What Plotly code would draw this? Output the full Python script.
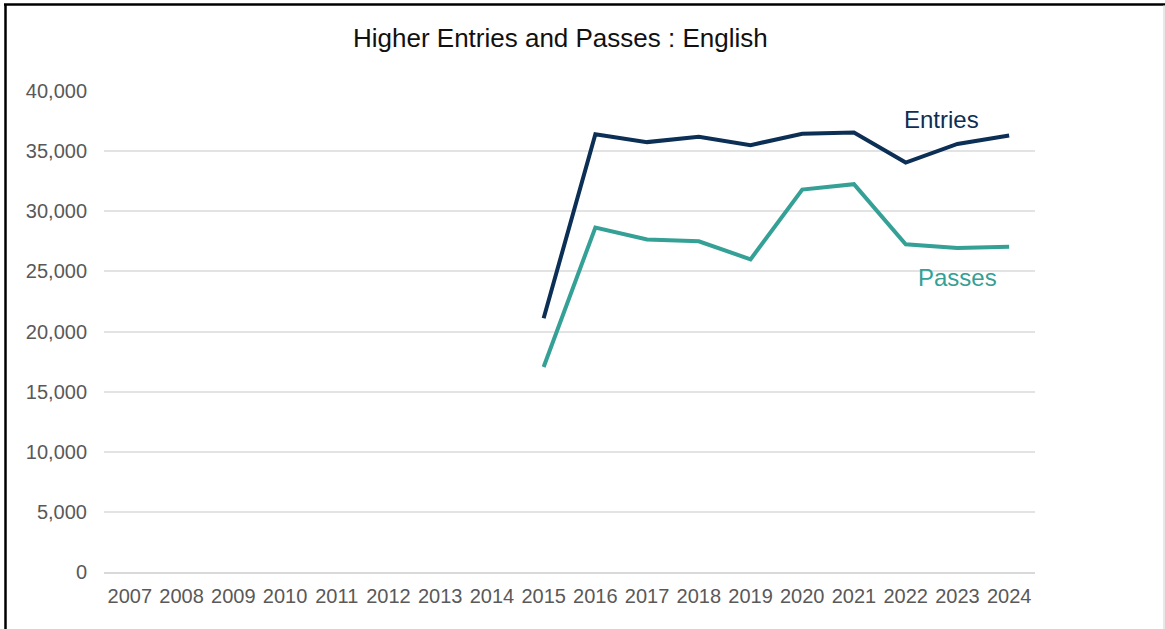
import plotly.graph_objects as go

years = [str(y) for y in range(2007, 2025)]
entries = [None] * 8 + [21100, 36400, 35750, 36200, 35500, 36450, 36550, 34050, 35600, 36300]
passes = [None] * 8 + [17050, 28650, 27650, 27500, 26000, 31800, 32250, 27250, 26950, 27050]
y_ticks = [0, 5000, 10000, 15000, 20000, 25000, 30000, 35000, 40000]

NAVY = "#0c2f55"
TEAL = "#34a096"
FONT = "Liberation Sans, Arial, sans-serif"

fig = go.Figure()
fig.add_trace(go.Scatter(x=years, y=entries, mode="lines", name="Entries",
                         line=dict(color=NAVY, width=4), connectgaps=False))
fig.add_trace(go.Scatter(x=years, y=passes, mode="lines", name="Passes",
                         line=dict(color=TEAL, width=4), connectgaps=False))

W, H = 1165, 629
L, R, T, B = 104, 130, 91, 57
pw, ph = W - L - R, H - T - B

def px_x(x):
    return (x - L) / pw

def px_y(y):
    return (H - B - y) / ph

fig.update_layout(
    width=W, height=H,
    margin=dict(l=L, r=R, t=T, b=B, pad=0),
    plot_bgcolor="white", paper_bgcolor="white",
    showlegend=False,
    font=dict(family=FONT, color="#595959", size=20),
    title=dict(text="Higher Entries and Passes : English", x=0.481, xanchor="center",
               y=1 - 38 / H, yanchor="middle",
               font=dict(family=FONT, size=26, color="#111111")),
    xaxis=dict(type="category", categoryorder="array", categoryarray=years,
               range=[-0.5, len(years) - 0.5], showgrid=False, zeroline=False,
               showline=True, linecolor="#d9d9d9", linewidth=1.5,
               ticks="", ticklabelstandoff=5, tickfont=dict(size=20, color="#595959")),
    yaxis=dict(range=[0, 40000], tickvals=y_ticks, tickformat=",", showgrid=True,
               gridcolor="#e3e3e3", gridwidth=1.5, zeroline=False, showline=False,
               ticks="", ticklabelstandoff=16, tickfont=dict(size=20, color="#595959")),
    annotations=[
        dict(text="Entries", x=15.7, y=37650, xref="x", yref="y", showarrow=False,
             font=dict(family=FONT, size=24, color=NAVY)),
        dict(text="Passes", x=16.01, y=24450, xref="x", yref="y", showarrow=False,
             font=dict(family=FONT, size=24, color=TEAL)),
    ],
    shapes=[
        dict(type="line", xref="paper", yref="paper", x0=px_x(4), x1=px_x(1166),
             y0=px_y(4.5), y1=px_y(4.5), line=dict(color="black", width=2.5)),
        dict(type="line", xref="paper", yref="paper", x0=px_x(5.5), x1=px_x(5.5),
             y0=px_y(4), y1=px_y(640), line=dict(color="black", width=2.5)),
        dict(type="line", xref="paper", yref="paper", x0=px_x(1164), x1=px_x(1164),
             y0=px_y(5), y1=px_y(640), line=dict(color="#d0d0d0", width=1)),
    ],
)

fig.write_html("out.html", config={"displayModeBar": False},
               post_script="document.body.style.margin='0';document.body.style.overflow='hidden';")
